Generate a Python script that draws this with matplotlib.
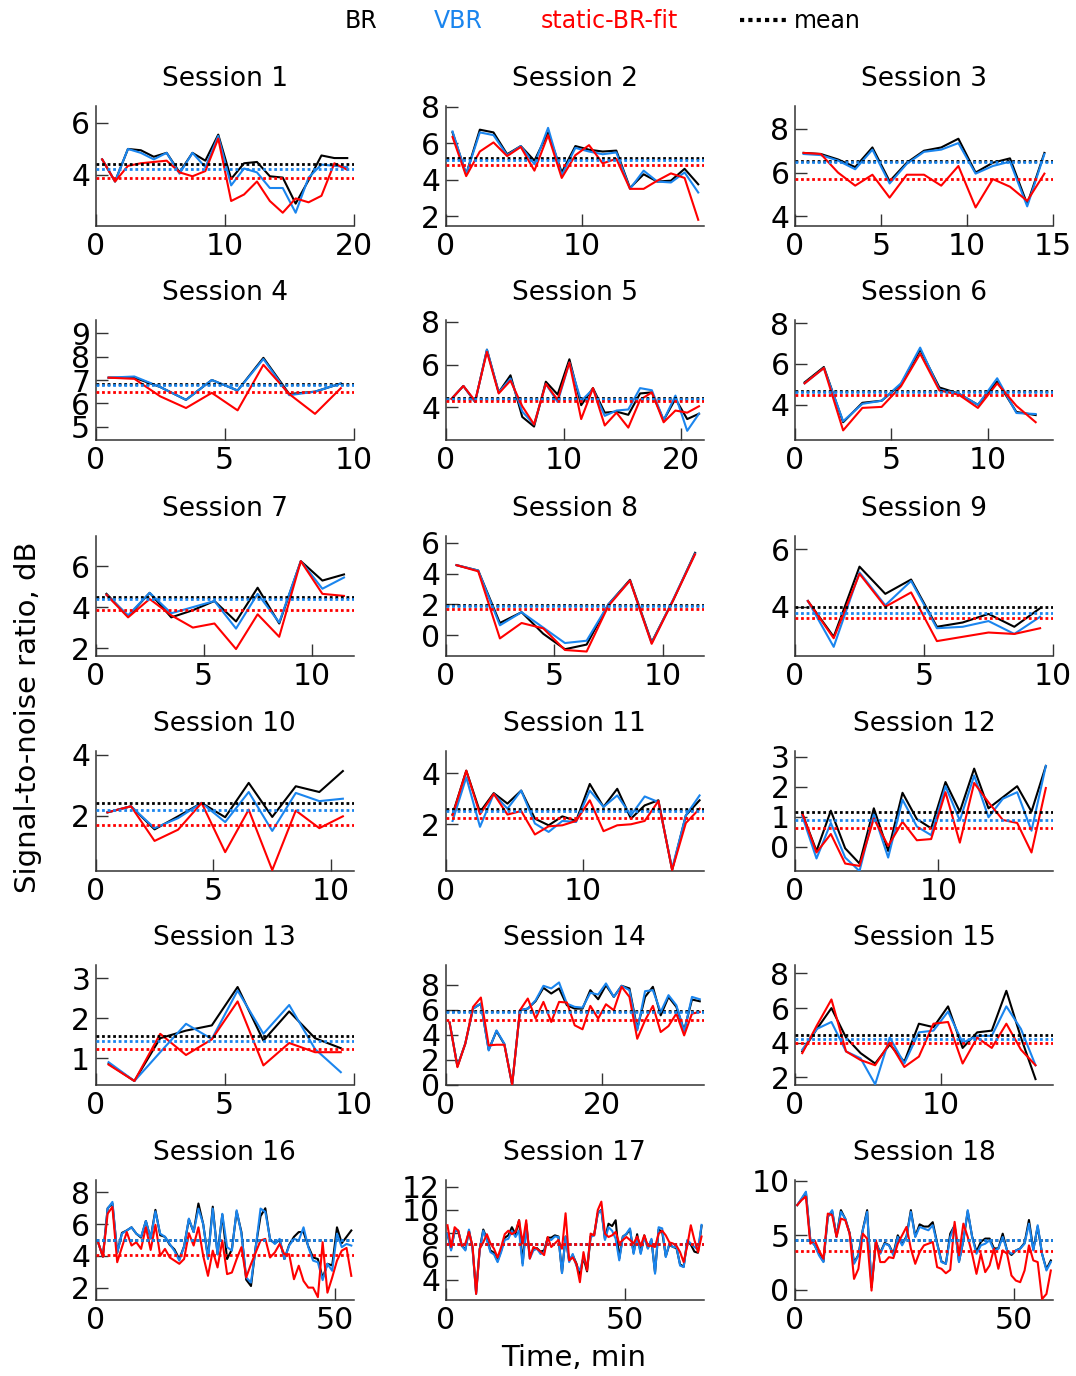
import numpy as np
import matplotlib
matplotlib.use("Agg")
import matplotlib.pyplot as plt
from matplotlib.lines import Line2D

plt.rcParams['font.family'] = ['DejaVu Sans']

# ---------------- data (SNR, dB) ----------------
BR1 = [4.6, 3.75, 5.0, 4.95, 4.7, 4.85, 4.1, 4.85, 4.55, 5.55, 3.85, 4.45, 4.5, 3.95, 3.9, 2.9, 3.8, 4.75, 4.65, 4.65]
VBR1 = [4.6, 3.75, 5.0, 4.85, 4.6, 4.85, 4.05, 4.85, 4.3, 5.5, 3.6, 4.25, 4.1, 3.5, 3.5, 2.55, 3.9, 4.4, 4.35, 4.3]
FIT1 = [4.6, 3.75, 4.35, 4.45, 4.5, 4.55, 4.1, 3.95, 4.15, 5.4, 3.0, 3.25, 3.75, 3.0, 2.55, 3.1, 2.95, 3.2, 4.45, 4.2]

BR2 = [6.6, 4.3, 6.75, 6.6, 5.4, 5.85, 5.05, 6.6, 4.4, 5.85, 5.65, 5.55, 5.6, 3.55, 4.3, 3.9, 3.95, 4.6, 3.75]
VBR2 = [6.65, 4.3, 6.6, 6.45, 5.35, 5.85, 4.85, 6.85, 4.25, 5.75, 5.55, 5.4, 5.5, 3.5, 4.5, 3.9, 3.85, 4.4, 3.3]
FIT2 = [6.35, 4.2, 5.55, 6.05, 5.3, 5.8, 4.5, 6.45, 4.1, 5.35, 5.9, 4.9, 5.15, 3.5, 3.5, 3.95, 4.35, 4.1, 1.8]

BR3 = [6.9, 6.85, 6.6, 6.25, 7.15, 5.6, 6.45, 7.0, 7.15, 7.55, 6.0, 6.45, 6.65, 4.55, 6.9]
VBR3 = [6.85, 6.8, 6.55, 6.15, 7.05, 5.5, 6.4, 6.95, 7.05, 7.35, 5.95, 6.3, 6.5, 4.45, 6.85]
FIT3 = [6.9, 6.85, 6.0, 5.4, 5.9, 4.85, 5.9, 5.9, 5.4, 6.3, 4.4, 5.7, 5.35, 4.7, 5.95]

BR4 = [7.1, 7.1, 6.7, 6.15, 7.0, 6.55, 7.95, 6.4, 6.5, 6.85]
VBR4 = [7.1, 7.15, 6.7, 6.15, 7.0, 6.55, 7.9, 6.35, 6.5, 6.85]
FIT4 = [7.1, 7.05, 6.3, 5.8, 6.45, 5.7, 7.65, 6.4, 5.55, 6.65]

BR5 = [4.4, 5.0, 4.25, 6.7, 4.7, 5.5, 3.55, 3.1, 5.2, 4.6, 6.25, 4.1, 4.9, 3.75, 3.8, 3.65, 4.65, 4.7, 3.4, 4.4, 3.45, 3.7]
VBR5 = [4.4, 5.0, 4.25, 6.7, 4.7, 5.35, 3.8, 3.2, 5.1, 4.25, 6.1, 4.3, 4.85, 3.6, 3.85, 3.9, 4.9, 4.8, 3.4, 4.55, 2.9, 3.7]
FIT5 = [4.4, 5.0, 4.3, 6.6, 4.65, 5.25, 4.05, 3.2, 5.1, 4.35, 6.1, 3.45, 4.9, 3.15, 3.75, 3.05, 4.35, 4.7, 3.3, 3.85, 3.75, 4.05]

BR6 = [5.1, 5.85, 3.15, 4.1, 4.2, 5.0, 6.7, 4.85, 4.55, 4.0, 5.15, 3.65, 3.5]
VBR6 = [5.05, 5.8, 3.2, 4.05, 4.2, 5.05, 6.8, 4.75, 4.55, 4.0, 5.3, 3.6, 3.55]
FIT6 = [5.05, 5.8, 2.75, 3.85, 3.9, 4.9, 6.5, 4.7, 4.5, 3.85, 5.05, 3.95, 3.15]

BR7 = [4.65, 3.55, 4.7, 3.5, 3.85, 4.3, 3.3, 4.95, 3.2, 6.25, 5.3, 5.6]
VBR7 = [4.6, 3.6, 4.7, 3.7, 4.0, 4.3, 2.95, 4.65, 3.25, 6.25, 4.9, 5.45]
FIT7 = [4.6, 3.5, 4.4, 3.6, 3.0, 3.2, 1.95, 3.65, 2.55, 6.25, 4.65, 4.55]

BR8 = [4.55, 4.2, 0.8, 1.5, 0.1, -0.9, -0.6, 2.0, 3.6, -0.45, 2.3, 5.35]
VBR8 = [4.55, 4.2, 0.65, 1.5, 0.5, -0.5, -0.35, 2.0, 3.55, -0.5, 2.35, 5.3]
FIT8 = [4.55, 4.15, -0.2, 0.8, 0.45, -0.95, -1.05, 1.9, 3.55, -0.55, 2.3, 5.25]

BR9 = [4.2, 2.95, 5.4, 4.45, 4.95, 3.3, 3.45, 3.75, 3.3, 3.95]
VBR9 = [4.2, 2.6, 5.2, 4.05, 4.9, 3.25, 3.3, 3.5, 3.05, 3.65]
FIT9 = [4.2, 2.9, 5.15, 4.0, 4.5, 2.8, 2.95, 3.1, 3.05, 3.25]

BR10 = [2.11, 2.31, 1.55, 1.98, 2.42, 1.95, 3.08, 1.96, 2.97, 2.78, 3.47]
VBR10 = [2.11, 2.31, 1.59, 1.92, 2.42, 1.79, 2.78, 1.5, 2.75, 2.48, 2.56]
FIT10 = [2.11, 2.31, 1.17, 1.54, 2.42, 0.8, 2.2, 0.21, 2.17, 1.59, 1.98]

BR11 = [2.39, 4.1, 2.48, 3.22, 2.81, 3.32, 2.22, 1.96, 2.31, 2.13, 3.58, 2.68, 3.39, 2.22, 2.74, 2.94, 0.21, 2.35, 2.94]
VBR11 = [2.13, 3.84, 1.9, 3.19, 2.61, 3.32, 2.03, 1.7, 2.13, 2.09, 3.32, 2.68, 3.13, 2.35, 3.09, 2.87, 0.27, 2.35, 3.13]
FIT11 = [2.35, 4.1, 2.39, 3.19, 2.38, 2.52, 1.6, 1.92, 1.96, 2.13, 2.94, 1.73, 1.96, 2.0, 2.13, 2.91, 0.21, 2.05, 2.61]

BR12 = [1.12, -0.15, 1.2, -0.06, -0.57, 1.28, -0.15, 1.8, 0.92, 0.61, 2.16, 1.17, 2.61, 1.28, 1.65, 2.02, 1.17, 2.7]
VBR12 = [1.03, -0.4, 0.79, -0.37, -0.82, 1.09, -0.37, 1.57, 0.67, 0.38, 2.02, 0.87, 2.38, 0.98, 1.6, 1.82, 0.53, 2.7]
FIT12 = [1.12, -0.2, 0.42, -0.57, -0.65, 0.94, 0.02, 0.83, 0.21, 0.25, 1.82, 0.13, 2.13, 1.48, 0.89, 0.79, -0.2, 1.96]

BR13 = [0.86, 0.43, 1.5, 1.69, 1.82, 2.78, 1.44, 2.17, 1.5, 1.25]
VBR13 = [0.9, 0.43, 1.15, 1.86, 1.48, 2.69, 1.61, 2.33, 1.23, 0.65]
FIT13 = [0.84, 0.43, 1.61, 1.08, 1.47, 2.42, 0.82, 1.38, 1.15, 1.15]

BR14 = [4.97, 1.48, 3.28, 6.1, 6.5, 2.8, 4.3, 3.25, 0.0, 5.97, 6.1, 6.7, 7.77, 7.31, 7.72, 6.37, 6.1,
        6.1, 7.58, 6.85, 7.98, 7.04, 7.93, 7.72, 4.49, 7.04, 7.85, 5.56, 7.04, 6.24, 4.35, 6.83, 6.69]
VBR14 = [4.97, 1.48, 3.28, 6.1, 6.5, 2.74, 4.35, 3.28, 0.0, 5.97, 6.1, 6.77, 7.93, 7.72, 8.2, 6.5, 6.24,
         6.18, 7.37, 7.23, 8.12, 7.04, 7.93, 7.58, 4.35, 7.5, 7.58, 5.83, 7.18, 6.37, 4.27, 7.04, 6.85]
FIT14 = [4.97, 1.4, 3.28, 6.24, 6.99, 3.15, 3.2, 3.2, 0.0, 5.97, 6.91, 5.3, 6.64, 5.03, 6.64, 6.59, 4.76,
         4.44, 6.32, 5.3, 6.45, 5.97, 7.85, 7.04, 3.68, 5.16, 6.32, 4.22, 4.7, 5.7, 3.95, 5.7, 5.83]

BR15 = [3.5, 4.8, 6.0, 4.3, 3.4, 2.8, 3.9, 2.9, 5.1, 4.9, 6.1, 3.7, 4.6, 4.7, 7.0, 4.3, 1.9]
VBR15 = [3.6, 4.8, 5.2, 3.5, 3.1, 1.6, 4.3, 2.8, 4.6, 4.7, 5.8, 4.0, 4.4, 4.4, 6.1, 4.8, 2.7]
FIT15 = [3.4, 5.0, 6.5, 3.5, 3.0, 2.7, 4.0, 2.6, 3.2, 5.1, 5.2, 2.8, 4.3, 3.7, 5.1, 3.6, 2.7]

BR16 = [4.86, 3.95, 7.0, 7.3, 4.2, 5.45, 5.6, 5.8, 5.4, 5.15, 6.2, 5.1, 6.9, 5.3, 5.2, 4.7, 4.4, 3.8,
        4.6, 6.3, 5.5, 7.3, 6.0, 3.9, 7.1, 4.1, 6.6, 3.8, 4.4, 6.8, 5.5, 2.5, 2.1, 4.6, 6.5, 7.0,
        5.0, 4.8, 5.0, 3.8, 4.7, 5.2, 5.5, 5.5, 4.6, 3.9, 3.8, 2.6, 3.5, 3.4, 5.8, 4.8, 5.2, 5.6]
VBR16 = [4.86, 3.95, 6.98, 7.4, 4.2, 5.4, 5.6, 5.8, 5.4, 5.2, 6.2, 5.1, 6.8, 5.4, 5.2, 4.75, 4.3, 3.7,
         4.6, 6.35, 5.5, 6.98, 6.0, 3.8, 6.98, 4.1, 6.65, 4.55, 4.33, 6.87, 5.4, 2.64, 2.32, 4.55, 6.98, 6.77,
         5.07, 4.75, 5.07, 3.8, 4.65, 5.07, 4.97, 5.8, 4.55, 3.7, 3.6, 2.47, 3.5, 3.06, 5.4, 4.55, 4.75, 4.65]
FIT16 = [4.86, 3.95, 6.66, 7.08, 3.6, 4.55, 5.5, 4.65, 4.86, 4.44, 5.8, 4.37, 5.96, 4.0, 4.44, 3.9, 3.7, 3.5,
         3.8, 5.43, 4.65, 5.8, 4.0, 2.74, 4.33, 3.27, 4.97, 2.85, 2.95, 3.8, 4.55, 2.64, 3.48, 4.22, 4.97, 5.07,
         3.9, 4.22, 4.75, 4.1, 4.1, 2.53, 3.38, 2.42, 2.0, 2.0, 1.4, 4.86, 1.68, 2.64, 3.7, 4.33, 4.5, 2.74]

BR17 = [7.95, 6.6, 8.2, 8.2, 6.9, 6.6, 8.2, 6.7, 2.9, 6.6, 8.3, 7.5, 6.5, 6.3, 5.6, 6.5, 7.6, 7.8,
        8.5, 7.9, 9.1, 5.4, 8.8, 6.0, 6.6, 6.7, 6.4, 6.5, 7.6, 7.6, 7.8, 7.7, 4.6, 7.7, 5.6, 6.1,
        5.4, 4.4, 5.9, 4.7, 7.7, 7.9, 9.7, 10.0, 7.5, 8.8, 8.6, 9.1, 5.8, 7.7, 7.9, 8.3, 6.3, 7.9,
        6.3, 7.8, 6.7, 7.4, 4.6, 8.3, 8.1, 6.0, 7.0, 6.8, 6.7, 5.3, 5.1, 7.3, 7.0, 6.4, 6.3, 8.6]
VBR17 = [7.95, 6.5, 8.2, 8.2, 6.9, 6.5, 8.3, 6.65, 2.76, 6.5, 8.2, 7.4, 6.36, 6.16, 5.5, 6.36, 7.4, 7.5,
         8.2, 7.66, 8.2, 5.2, 8.5, 5.8, 6.5, 6.65, 6.2, 6.36, 7.5, 7.4, 7.7, 7.66, 4.55, 7.66, 5.5, 6.2,
         5.2, 4.78, 5.93, 5.07, 7.66, 7.8, 9.68, 9.97, 7.4, 8.5, 8.2, 7.5, 5.65, 7.66, 7.95, 8.4, 6.2, 7.66,
         6.2, 7.66, 6.65, 7.5, 4.5, 8.5, 8.4, 5.93, 7.1, 6.8, 6.8, 5.2, 5.07, 7.4, 7.1, 6.8, 6.57, 8.7]
FIT17 = [8.67, 6.8, 8.5, 8.2, 6.9, 7.1, 8.1, 6.9, 2.76, 6.65, 7.2, 7.9, 7.1, 6.65, 5.9, 6.8, 7.9, 8.2,
         7.9, 8.1, 9.1, 7.1, 9.1, 5.8, 6.8, 6.65, 6.4, 6.1, 7.66, 6.8, 7.1, 7.4, 6.65, 9.7, 5.65, 5.9,
         5.35, 3.77, 6.36, 4.78, 7.95, 7.8, 9.97, 10.7, 7.95, 7.66, 7.8, 8.1, 7.1, 7.4, 7.66, 7.4, 7.1, 7.7,
         6.9, 7.8, 6.9, 6.9, 6.8, 7.95, 8.2, 7.8, 7.2, 7.1, 6.9, 6.36, 5.5, 6.9, 8.67, 7.4, 6.36, 7.7]

BR18 = [7.76, 8.3, 8.9, 4.6, 4.1, 3.3, 2.6, 6.7, 7.2, 4.9, 7.3, 6.5, 5.2, 2.5, 3.2, 5.5, 7.3, 0.25, 4.4, 3.4,
        4.3, 4.1, 3.3, 5.0, 4.2, 4.9, 7.3, 4.9, 6.0, 5.8, 5.8, 6.2, 4.3, 2.6, 2.4, 5.15, 5.9, 2.6, 4.5, 7.2,
        4.9, 3.5, 4.4, 4.7, 4.7, 3.8, 3.8, 5.15, 3.6, 3.2, 3.6, 3.8, 4.3, 6.4, 3.7, 5.8, 3.3, 1.9, 2.7]
VBR18 = [7.76, 8.37, 8.99, 4.54, 4.08, 3.16, 2.55, 6.69, 7.3, 4.85, 7.15, 6.53, 5.15, 2.39, 3.16, 5.46, 7.15, 0.4, 4.39, 3.31,
         4.23, 4.08, 3.16, 4.85, 4.08, 4.85, 7.15, 4.85, 5.77, 5.61, 5.46, 5.92, 4.23, 2.55, 2.39, 4.85, 5.92, 2.55, 4.54, 7.3,
         4.85, 3.31, 4.08, 4.23, 4.54, 3.62, 3.77, 4.85, 3.62, 3.31, 3.62, 3.77, 4.23, 6.07, 3.62, 5.92, 3.31, 1.78, 2.55]
FIT18 = [7.76, 8.22, 8.53, 4.23, 4.54, 3.62, 2.85, 6.99, 6.84, 4.85, 6.53, 6.38, 5.15, 1.01, 1.93, 5.15, 4.69, -0.06, 4.54, 2.55,
         2.55, 3.0, 2.91, 4.23, 5.0, 5.77, 3.77, 2.39, 3.47, 4.08, 4.23, 4.39, 2.09, 1.93, 1.53, 1.84, 6.23, 3.16, 6.07, 4.85,
         3.31, 1.47, 3.31, 1.63, 2.24, 3.77, 1.93, 3.62, 3.31, 1.32, 0.86, 0.71, 1.78, 4.08, 2.7, 2.55, -0.83, -0.37, 1.78]

# session means (BR, VBR, static-BR-fit)
MEAN_BR = [4.41, 5.2, 6.54, 6.83, 4.42, 4.67, 4.48, 1.94, 4.0, 2.42, 2.61, 1.15, 1.55, 5.89, 4.46, 5.0, 7.05, 4.6]
MEAN_VBR = [4.22, 5.07, 6.48, 6.8, 4.39, 4.62, 4.39, 1.9, 3.79, 2.18, 2.52, 0.9, 1.42, 5.86, 4.23, 4.99, 7.02, 4.55]
MEAN_FIT = [3.87, 4.8, 5.71, 6.47, 4.31, 4.49, 3.84, 1.68, 3.62, 1.68, 2.26, 0.63, 1.23, 5.16, 4.0, 4.03, 7.08, 3.53]

SESSION_TITLES = ["Session %d" % (k + 1) for k in range(18)]
X_TICKS = [[0, 10, 20], [0, 10], [0, 5, 10, 15], [0, 5, 10], [0, 10, 20], [0, 5, 10],
           [0, 5, 10], [0, 5, 10], [0, 5, 10], [0, 5, 10], [0, 10], [0, 10],
           [0, 5, 10], [0, 20], [0, 10], [0, 50], [0, 50], [0, 50]]
Y_TICKS = [[4, 6], [2, 4, 6, 8], [4, 6, 8], [5, 6, 7, 8, 9], [4, 6, 8], [4, 6, 8],
           [2, 4, 6], [0, 2, 4, 6], [4, 6], [2, 4], [2, 4], [0, 1, 2, 3],
           [1, 2, 3], [0, 2, 4, 6, 8], [2, 4, 6, 8], [2, 4, 6, 8], [4, 6, 8, 10, 12], [0, 5, 10]]
X_MAX = [20, 18.9, 15, 10, 21.9, 13.4, 11.95, 11.9, 10, 10.96, 18.8, 18.0, 10, 33, 17.7, 54, 72.1, 59]
Y_LIM = [(2.04, 6.65), (1.46, 8.05), (3.55, 9.05), (4.43, 9.57), (2.47, 8.09), (2.28, 8.15),
         (1.61, 7.48), (-1.34, 6.44), (2.28, 6.47), (0.18, 4.13), (0.17, 4.87), (-0.82, 3.2),
         (0.33, 3.33), (-0.03, 9.6), (1.56, 8.49), (1.22, 8.78), (2.24, 12.56), (-0.92, 10.06)]

BR = [BR1, BR2, BR3, BR4, BR5, BR6, BR7, BR8, BR9, BR10, BR11, BR12, BR13, BR14, BR15, BR16, BR17, BR18]
VBR = [VBR1, VBR2, VBR3, VBR4, VBR5, VBR6, VBR7, VBR8, VBR9, VBR10, VBR11, VBR12, VBR13, VBR14, VBR15, VBR16, VBR17, VBR18]
FIT = [FIT1, FIT2, FIT3, FIT4, FIT5, FIT6, FIT7, FIT8, FIT9, FIT10, FIT11, FIT12, FIT13, FIT14, FIT15, FIT16, FIT17, FIT18]

# ---------------- style ----------------
C_BR = "#000000"
C_VBR = "#1a85ee"
C_FIT = "#ff0000"
SPINE = "#333333"
DOT = (0, (1, 1))

W, H = 1076, 1376
fig = plt.figure(figsize=(W / 100, H / 100), dpi=100)

col_left = [95.7, 445.7, 795.0]
row_top = [106, 320, 536, 751, 965, 1180]
ax_w, ax_h = 258.0, 120.0

for k in range(18):
    r, c = divmod(k, 3)
    ax = fig.add_axes([col_left[c] / W, 1 - (row_top[r] + ax_h) / H, ax_w / W, ax_h / H])
    n = len(BR[k])
    t = np.arange(n) + 0.5
    ax.plot(t, BR[k], color=C_BR, lw=1.5, zorder=2)
    ax.plot(t, VBR[k], color=C_VBR, lw=1.5, zorder=3)
    ax.plot(t, FIT[k], color=C_FIT, lw=1.5, zorder=4)
    ax.axhline(MEAN_BR[k], color=C_BR, lw=2.0, ls=DOT, zorder=5)
    ax.axhline(MEAN_VBR[k], color=C_VBR, lw=2.0, ls=DOT, zorder=5)
    ax.axhline(MEAN_FIT[k], color=C_FIT, lw=2.0, ls=DOT, zorder=5)
    ax.set_xlim(0, X_MAX[k])
    ax.set_ylim(*Y_LIM[k])
    ax.set_xticks(X_TICKS[k])
    ax.set_yticks(Y_TICKS[k])
    ax.set_title(SESSION_TITLES[k], fontsize=19, pad=14.5)
    for s in ("top", "right"):
        ax.spines[s].set_visible(False)
    for s in ("left", "bottom"):
        ax.spines[s].set_color(SPINE)
        ax.spines[s].set_linewidth(1.1)
    ax.tick_params(direction="in", length=8.5, width=1.0, color=SPINE,
                   labelsize=21.5, pad=4)

fig.text(0.026, 0.479, "Signal-to-noise ratio, dB", rotation=90,
         ha="center", va="center", fontsize=21)
fig.text(574 / W, 1 - 1358 / H, "Time, min", ha="center", va="center", fontsize=21)

# legend row
ly = 1 - 21 / H
fig.text(345 / W, ly, "BR", color=C_BR, fontsize=17, ha="left", va="center")
fig.text(434 / W, ly, "VBR", color=C_VBR, fontsize=17, ha="left", va="center")
fig.text(541 / W, ly, "static-BR-fit", color=C_FIT, fontsize=17, ha="left", va="center")
fig.legend(handles=[Line2D([], [], color="k", lw=3, ls=DOT)], labels=["mean"],
           loc="center left", bbox_to_anchor=(740 / W, ly), frameon=False,
           borderpad=0, borderaxespad=0, handlelength=2.1, handletextpad=0.2,
           fontsize=17)

fig.savefig("out.png", dpi=100)
